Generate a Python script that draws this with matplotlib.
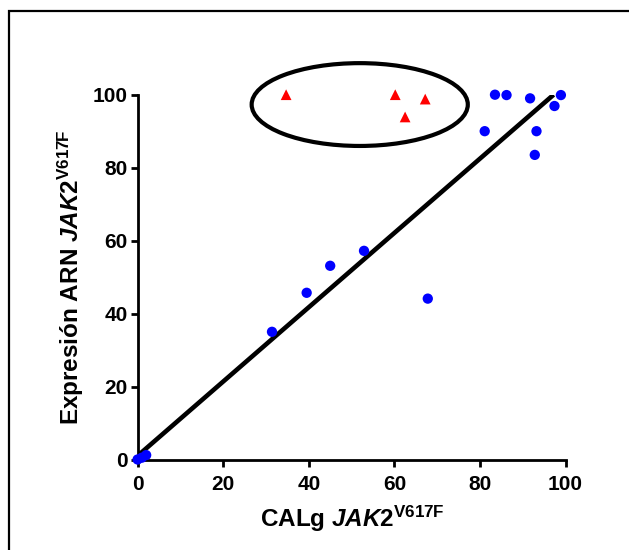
import matplotlib
matplotlib.use("Agg")
import matplotlib.pyplot as plt
from matplotlib.patches import Ellipse, Rectangle

plt.rcParams['font.family'] = ['Liberation Sans', 'DejaVu Sans']
plt.rcParams['font.weight'] = 'bold'
plt.rcParams['axes.labelweight'] = 'bold'
plt.rcParams['mathtext.fontset'] = 'custom'
plt.rcParams['mathtext.rm'] = 'Liberation Sans:bold'
plt.rcParams['mathtext.it'] = 'Liberation Sans:bold:italic'
plt.rcParams['mathtext.bf'] = 'Liberation Sans:bold'

# CALg (x) vs RNA expression (y), blue = concordant samples
blue_x = [0, 1, 2, 31.4, 39.5, 45.0, 52.9, 67.8, 81.1, 83.5, 86.2, 91.7, 93.2, 92.8, 97.4, 98.9]
blue_y = [0, 0.5, 1.2, 35.0, 45.7, 53.1, 57.2, 44.1, 90.0, 100, 99.9, 99.0, 90.0, 83.5, 96.9, 99.9]

# red = discordant samples (circled)
red_x = [34.7, 60.2, 67.2, 62.5]
red_y = [100, 100, 98.8, 93.9]

# regression line endpoints
line_x = [0, 97.2]
line_y = [1.0, 100]

xticks = [0, 20, 40, 60, 80, 100]
yticks = [0, 20, 40, 60, 80, 100]

W, H = 629, 550
fig = plt.figure(figsize=(W / 100, H / 100), dpi=100)
ax = fig.add_axes([137.6 / W, 1 - 459.5 / H, (565.6 - 137.6) / W, (459.5 - 94.7) / H])

ax.plot(line_x, line_y, color='black', lw=3.3, solid_capstyle='butt', zorder=3)
ax.scatter(blue_x, blue_y, s=55, color='#0000ff', edgecolors='none', zorder=5, clip_on=False)
ax.scatter(red_x, red_y, s=60, marker='^', color='#ff0000', edgecolors='none', zorder=5, clip_on=False)

ax.add_patch(Ellipse((51.9, 97.3), 50.5, 22.7, fill=False, edgecolor='black', lw=3.0,
                     clip_on=False, zorder=4))

ax.set_xlim(0, 100)
ax.set_ylim(0, 100)
ax.set_xticks(xticks)
ax.set_yticks(yticks)
ax.spines['top'].set_visible(False)
ax.spines['right'].set_visible(False)
for s in ['left', 'bottom']:
    ax.spines[s].set_linewidth(2.0)
ax.tick_params(direction='out', length=5, width=2, labelsize=15)
ax.tick_params(axis='x', pad=6)
ax.tick_params(axis='y', pad=2)

ax.set_xlabel(r'CALg $\mathit{JAK2}^{\mathrm{V617F}}$', fontsize=17.5, labelpad=7)
ax.set_ylabel(r'Expresión ARN $\mathit{JAK2}^{\mathrm{V617F}}$', fontsize=17.5, labelpad=5)

# frame around the figure (right and bottom fall outside the image)
fig.patches.append(Rectangle((9 / W, -0.1), 1.2, 1 - 11 / H + 0.1, transform=fig.transFigure,
                             fill=False, edgecolor='black', lw=1.6))

fig.savefig('out.png', dpi=100)
